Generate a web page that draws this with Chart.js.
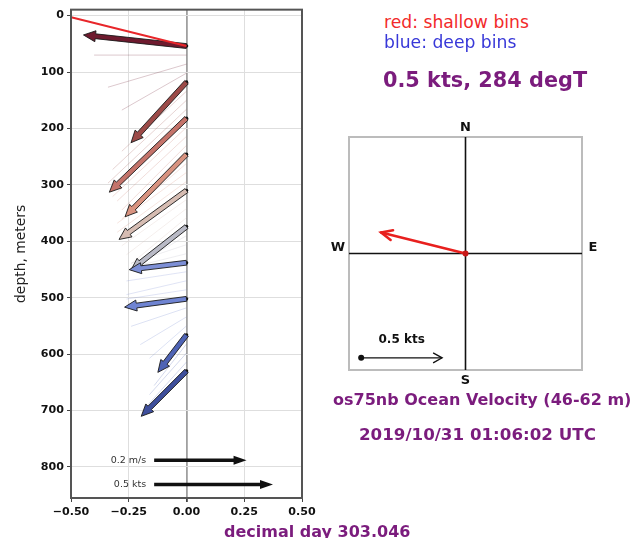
<!DOCTYPE html>
<html>
<head>
<meta charset="utf-8">
<script src="https://cdn.jsdelivr.net/npm/chart.js@4.4.1/dist/chart.umd.min.js"></script>
<style>
  html, body { margin: 0; padding: 0; background: #fff; }
  #page { position: relative; width: 635px; height: 538px; overflow: hidden; font-family: "DejaVu Sans", sans-serif; }
  canvas { position: absolute; }
  .txt { position: absolute; white-space: nowrap; line-height: 1; }
  .purple { color: #7b1c7d; font-weight: bold; }
</style>
</head>
<body>
<div id="page">
  <canvas id="profile" width="330" height="538" style="left:0;top:0;width:330px;height:538px"></canvas>
  <canvas id="compass" width="300" height="300" style="left:320px;top:100px;width:300px;height:300px"></canvas>

  <div class="txt" style="left:384px;top:14px;font-size:17.2px;color:#f22a2a">red: shallow bins</div>
  <div class="txt" style="left:384px;top:34px;font-size:17.2px;color:#3838d8">blue: deep bins</div>
  <div class="txt purple" style="left:383px;top:70px;font-size:20.8px">0.5 kts, 284 degT</div>
  <div class="txt purple" style="left:333px;top:392px;font-size:16px">os75nb Ocean Velocity (46-62 m)</div>
  <div class="txt purple" style="left:359px;top:426px;font-size:16.7px">2019/10/31 01:06:02 UTC</div>
  <div class="txt purple" style="left:224px;top:524px;font-size:16px">decimal day 303.046</div>
</div>

<script>
// ---- velocity profile: bin depths (m) and east/north components (m/s) ----
const depths = [54, 70, 86, 102, 118, 134, 150, 166, 182, 198, 214, 230, 246, 262, 278, 294,
                310, 326, 342, 358, 374, 390, 406, 422, 438, 454, 470, 486, 502, 518, 534, 550,
                566, 582, 598, 614, 630];
const uEast = [-0.223, -0.200, -0.170, -0.140, -0.120, -0.140, -0.160, -0.170, -0.167, -0.160,
               -0.150, -0.140, -0.133, -0.140, -0.150, -0.150, -0.146, -0.140, -0.130, -0.120,
               -0.120, -0.120, -0.120, -0.120, -0.124, -0.130, -0.130, -0.130, -0.134, -0.120,
               -0.100, -0.080, -0.062, -0.070, -0.080, -0.090, -0.098];
const vNorth = [0.024, 0.000, -0.050, -0.080, -0.131, -0.130, -0.150, -0.160, -0.160, -0.150,
                -0.140, -0.140, -0.135, -0.120, -0.110, -0.110, -0.106, -0.100, -0.100, -0.100,
                -0.094, -0.070, -0.040, -0.030, -0.015, -0.020, -0.030, -0.020, -0.018, -0.040,
                -0.060, -0.070, -0.081, -0.090, -0.090, -0.100, -0.098];
// every 4th bin gets a full arrow, shallow (red) to deep (blue)
const arrowEvery = 4;
const arrowColors = ['#6e1a2e', '#9c4a48', '#c4736a', '#d8927f', '#d6bcb2',
                     '#b9bac6', '#7d8fd6', '#6f84d2', '#4e63b5', '#3e4f9c'];

// layer-average current
const avgSpeedKts = 0.5;
const avgDirDeg = 284;

// reference arrows drawn inside the profile
const refLabels = ['0.2 m/s', '0.5 kts'];
const refSpeeds = [0.2, 0.5 * 0.514444];   // m/s
const refDepths = [788, 831];
const refStartX = -0.14;

// axes
const xTicks = [-0.5, -0.25, 0, 0.25, 0.5];
const yTicks = [0, 100, 200, 300, 400, 500, 600, 700, 800];
const stickScale = 2.0;      // x-axis units per m/s

function arrowShape(ctx, x0, y0, x1, y1, sw, hw, hl) {
  const dx = x1 - x0, dy = y1 - y0, L = Math.hypot(dx, dy);
  const ux = dx / L, uy = dy / L, nx = -uy, ny = ux;
  const h = Math.min(hl, L * 0.9);
  const bx = x1 - ux * h, by = y1 - uy * h;
  ctx.beginPath();
  ctx.moveTo(x0 + nx * sw / 2, y0 + ny * sw / 2);
  ctx.lineTo(bx + nx * sw / 2, by + ny * sw / 2);
  ctx.lineTo(bx + nx * hw / 2, by + ny * hw / 2);
  ctx.lineTo(x1, y1);
  ctx.lineTo(bx - nx * hw / 2, by - ny * hw / 2);
  ctx.lineTo(bx - nx * sw / 2, by - ny * sw / 2);
  ctx.lineTo(x0 - nx * sw / 2, y0 - ny * sw / 2);
  ctx.closePath();
}

const quiverPlugin = {
  id: 'quiver',
  beforeDatasetsDraw(chart) {
    const { ctx, chartArea: a, scales: { x, y } } = chart;
    const pxPerMs = (x.getPixelForValue(1) - x.getPixelForValue(0)) * stickScale;
    ctx.save();
    ctx.beginPath(); ctx.rect(a.left, a.top, a.right - a.left, a.bottom - a.top); ctx.clip();
    // thin sticks for the intermediate bins
    depths.forEach((d, i) => {
      if (i % arrowEvery === 0) return;
      const x0 = x.getPixelForValue(0), y0 = y.getPixelForValue(d);
      const c = arrowColors[Math.floor(i / arrowEvery)];
      ctx.strokeStyle = c; ctx.globalAlpha = 0.3; ctx.lineWidth = 0.8;
      ctx.beginPath(); ctx.moveTo(x0, y0);
      ctx.lineTo(x0 + uEast[i] * pxPerMs, y0 - vNorth[i] * pxPerMs); ctx.stroke();
    });
    ctx.globalAlpha = 1;
    ctx.restore();
  },
  afterDatasetsDraw(chart) {
    const { ctx, chartArea: a, scales: { x, y } } = chart;
    const pxPerMs = (x.getPixelForValue(1) - x.getPixelForValue(0)) * stickScale;
    ctx.save();
    ctx.beginPath(); ctx.rect(a.left, a.top, a.right - a.left, a.bottom - a.top); ctx.clip();
    // arrows
    depths.forEach((d, i) => {
      if (i % arrowEvery !== 0) return;
      const x0 = x.getPixelForValue(0), y0 = y.getPixelForValue(d);
      arrowShape(ctx, x0, y0, x0 + uEast[i] * pxPerMs, y0 - vNorth[i] * pxPerMs, 4.8, 11, 12);
      ctx.fillStyle = arrowColors[i / arrowEvery];
      ctx.fill();
      ctx.strokeStyle = '#1a1a1a'; ctx.lineWidth = 0.9; ctx.stroke();
    });
    // layer average as a red stick from the first bin
    const sp = avgSpeedKts * 0.514444, th = avgDirDeg * Math.PI / 180;
    const x0 = x.getPixelForValue(0), y0 = y.getPixelForValue(depths[0]);
    ctx.strokeStyle = '#e8262a'; ctx.lineWidth = 2;
    ctx.beginPath(); ctx.moveTo(x0, y0);
    ctx.lineTo(x0 + sp * Math.sin(th) * pxPerMs, y0 - sp * Math.cos(th) * pxPerMs); ctx.stroke();
    // reference arrows
    refLabels.forEach((lab, i) => {
      const xs = x.getPixelForValue(refStartX), ys = y.getPixelForValue(refDepths[i]);
      arrowShape(ctx, xs, ys, xs + refSpeeds[i] * pxPerMs, ys, 3.5, 9, 13);
      ctx.fillStyle = '#111'; ctx.fill();
      ctx.font = '9.5px "DejaVu Sans"'; ctx.fillStyle = '#333';
      ctx.textAlign = 'right'; ctx.textBaseline = 'middle';
      ctx.fillText(lab, xs - 8, ys);
    });
    ctx.restore();
    // frame
    ctx.save();
    ctx.strokeStyle = '#555'; ctx.lineWidth = 2;
    ctx.strokeRect(a.left, a.top, a.right - a.left, a.bottom - a.top);
    ctx.restore();
  }
};

const tickFont = { family: 'DejaVu Sans', size: 11.1, weight: 'bold' };

new Chart(document.getElementById('profile'), {
  type: 'scatter',
  data: {
    datasets: [{
      data: depths.filter((d, i) => i % arrowEvery === 0).map(d => ({ x: 0, y: d })),
      pointRadius: 1.8, pointBackgroundColor: '#111', pointBorderWidth: 0
    }]
  },
  options: {
    responsive: false, animation: false,
    layout: { padding: { left: 0, top: 9, right: 28, bottom: 0 } },
    plugins: { legend: { display: false }, tooltip: { enabled: false } },
    scales: {
      x: {
        type: 'linear', min: -0.5, max: 0.5,
        afterBuildTicks: s => { s.ticks = xTicks.map(v => ({ value: v })); },
        afterFit: s => { s.height = 40; },
        ticks: { font: tickFont, color: '#111', padding: 3,
                 callback: v => v.toFixed(2).replace('-', '\u2212') },
        grid: {
          color: c => c.tick && c.tick.value === 0 ? '#a0a0a0' : '#dedede',
          lineWidth: c => c.tick && c.tick.value === 0 ? 1.8 : 1,
          tickColor: '#444', tickLength: 4
        },
        border: { display: false }
      },
      y: {
        type: 'linear', reverse: true, min: -10.5, max: 855,
        afterBuildTicks: s => { s.ticks = yTicks.map(v => ({ value: v })); },
        afterFit: s => { s.width = 71; },
        ticks: { font: tickFont, color: '#111', padding: 3 },
        grid: { color: '#dedede', lineWidth: 1, tickColor: '#444', tickLength: 4 },
        border: { display: false },
        title: { display: true, text: 'depth, meters', color: '#222',
                 font: { family: 'DejaVu Sans', size: 13.9 }, padding: { top: 13, bottom: 0 } }
      }
    }
  },
  plugins: [quiverPlugin]
});

// ---- compass ----
const compassRange = 0.67;    // kts at box edge
const scaleArrowKts = 0.5;
const scaleArrowStart = [-0.6, -0.6];
const compassLabels = ['N', 'S', 'W', 'E'];

function openHead(ctx, x0, y0, x1, y1, len, half) {
  const a = Math.atan2(y1 - y0, x1 - x0);
  ctx.beginPath();
  ctx.moveTo(x1 - len * Math.cos(a) + half * Math.sin(a), y1 - len * Math.sin(a) - half * Math.cos(a));
  ctx.lineTo(x1, y1);
  ctx.lineTo(x1 - len * Math.cos(a) - half * Math.sin(a), y1 - len * Math.sin(a) + half * Math.cos(a));
  ctx.stroke();
}

const compassPlugin = {
  id: 'compassRose',
  afterDatasetsDraw(chart) {
    const { ctx, chartArea: a, scales: { x, y } } = chart;
    const cx = x.getPixelForValue(0), cy = y.getPixelForValue(0);
    ctx.save();
    ctx.strokeStyle = '#bcbcbc'; ctx.lineWidth = 2;
    ctx.strokeRect(a.left, a.top, a.right - a.left, a.bottom - a.top);
    ctx.strokeStyle = '#111'; ctx.lineWidth = 1.6;
    ctx.beginPath();
    ctx.moveTo(cx, a.top); ctx.lineTo(cx, a.bottom);
    ctx.moveTo(a.left, cy); ctx.lineTo(a.right, cy);
    ctx.stroke();
    // cardinal letters
    ctx.font = 'bold 13px "DejaVu Sans"'; ctx.fillStyle = '#111';
    ctx.textAlign = 'center'; ctx.textBaseline = 'middle';
    ctx.fillText(compassLabels[0], cx, a.top - 9);
    ctx.fillText(compassLabels[1], cx, a.bottom + 11);
    ctx.fillText(compassLabels[2], a.left - 11, cy - 6);
    ctx.fillText(compassLabels[3], a.right + 11, cy - 6);
    // mean current arrow
    const th = avgDirDeg * Math.PI / 180;
    const tx = x.getPixelForValue(avgSpeedKts * Math.sin(th));
    const ty = y.getPixelForValue(avgSpeedKts * Math.cos(th));
    ctx.strokeStyle = '#e8201e'; ctx.lineWidth = 2.6; ctx.lineCap = 'round';
    ctx.beginPath(); ctx.moveTo(cx, cy); ctx.lineTo(tx, ty); ctx.stroke();
    openHead(ctx, cx, cy, tx, ty, 11, 5);
    ctx.fillStyle = '#c81818';
    ctx.beginPath(); ctx.arc(cx, cy, 3, 0, Math.PI * 2); ctx.fill();
    // scale arrow
    const sx = x.getPixelForValue(scaleArrowStart[0]), sy = y.getPixelForValue(scaleArrowStart[1]);
    const ex = x.getPixelForValue(scaleArrowStart[0] + scaleArrowKts) - 6;
    ctx.strokeStyle = '#111'; ctx.lineWidth = 1.3; ctx.lineCap = 'butt';
    ctx.beginPath(); ctx.moveTo(sx, sy); ctx.lineTo(ex, sy); ctx.stroke();
    openHead(ctx, sx, sy, ex, sy, 9, 5);
    ctx.fillStyle = '#111';
    ctx.beginPath(); ctx.arc(sx, sy, 3, 0, Math.PI * 2); ctx.fill();
    ctx.font = 'bold 12px "DejaVu Sans"';
    ctx.fillText(scaleArrowKts + ' kts', (sx + ex) / 2, sy - 18);
    ctx.restore();
  }
};

new Chart(document.getElementById('compass'), {
  type: 'scatter',
  data: { datasets: [{ data: [], pointRadius: 0 }] },
  options: {
    responsive: false, animation: false,
    layout: { padding: { left: 29, top: 37, right: 38, bottom: 30 } },
    plugins: { legend: { display: false }, tooltip: { enabled: false } },
    scales: {
      x: { type: 'linear', min: -compassRange, max: compassRange, display: false },
      y: { type: 'linear', min: -compassRange, max: compassRange, display: false }
    }
  },
  plugins: [compassPlugin]
});
</script>
</body>
</html>
